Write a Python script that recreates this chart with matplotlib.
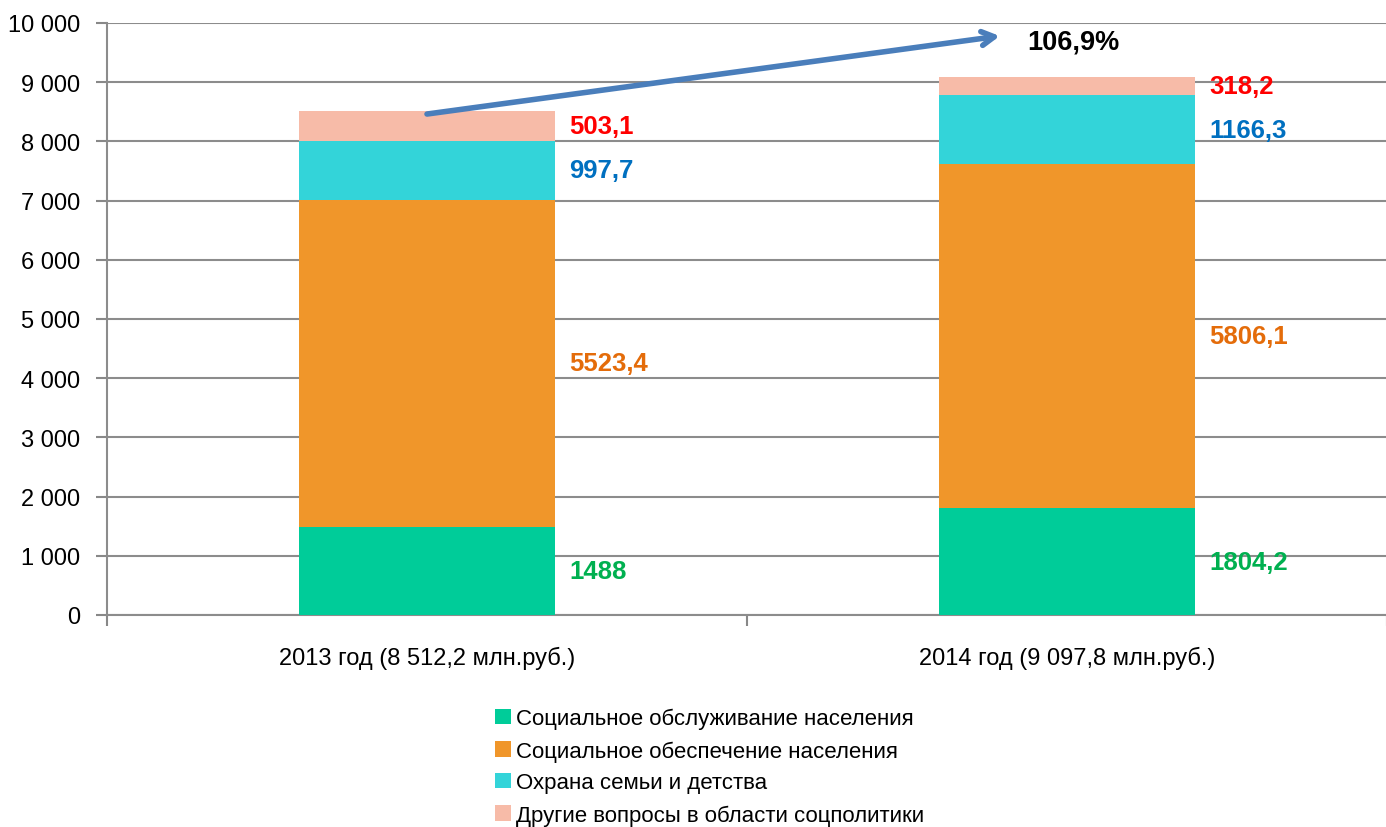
import matplotlib
matplotlib.use("Agg")
import matplotlib.pyplot as plt
import numpy as np
from matplotlib.patches import Patch

plt.rcParams['font.family'] = ["Liberation Sans", "DejaVu Sans"]

categories = ["2013 год (8 512,2 млн.руб.)", "2014 год (9 097,8 млн.руб.)"]
series_names = ["Социальное обслуживание населения",
                "Социальное обеспечение населения",
                "Охрана семьи и детства",
                "Другие вопросы в области соцполитики"]
obsluzh = [1488, 1804.2]
obespech = [5523.4, 5806.1]
semya = [997.7, 1166.3]
drugie = [503.1, 318.2]
label_texts = [["1488", "1804,2"], ["5523,4", "5806,1"], ["997,7", "1166,3"], ["503,1", "318,2"]]
growth_text = "106,9%"
yticks = [0, 1000, 2000, 3000, 4000, 5000, 6000, 7000, 8000, 9000, 10000]
ytick_labels = ["0", "1 000", "2 000", "3 000", "4 000", "5 000", "6 000", "7 000", "8 000", "9 000", "10 000"]

colors = ["#00CC99", "#F0962A", "#33D4D9", "#F7BBA8"]
label_colors = ["#00B050", "#E46C0A", "#0070C0", "#FF0000"]

fig = plt.figure(figsize=(13.86, 8.28), dpi=100)
ax = fig.add_axes([107/1386, 1-616/828, 1280/1386, (616-24)/828])

x = np.arange(len(categories))
series = [obsluzh, obespech, semya, drugie]
bottom = np.zeros(len(categories))
for s, c, lt, lc, nm in zip(series, colors, label_texts, label_colors, series_names):
    vals = np.array(s)
    ax.bar(x, vals, width=0.4, bottom=bottom, color=c, zorder=3, label=nm)
    for i in range(len(x)):
        ax.text(x[i] + 0.222, bottom[i] + vals[i] / 2, lt[i], color=lc, fontsize=18.5,
                fontweight='bold', ha='left', va='center', zorder=4)
    bottom = bottom + vals

ax.set_xlim(-0.5, 1.5)
ax.set_ylim(0, 10000)
ax.set_yticks(yticks)
ax.set_yticklabels(ytick_labels, fontsize=17)
ax.set_xticks(x)
ax.set_xticklabels(categories, fontsize=17)
ax.set_xticks([-0.5, 0.5, 1.5], minor=True)
ax.tick_params(axis='x', which='major', length=0, pad=22)
ax.tick_params(axis='x', which='minor', length=8, color='#888888', width=1.5)
ax.tick_params(axis='y', length=8, color='#888888', width=1.5, pad=11)
ax.grid(axis='y', color='#8c8c8c', linewidth=1.5, zorder=0)
for sp in ['top', 'right']:
    ax.spines[sp].set_visible(False)
ax.spines['left'].set_color('#8c8c8c')
ax.spines['left'].set_linewidth(1.5)
ax.spines['bottom'].set_color('#8c8c8c')
ax.spines['bottom'].set_linewidth(1.5)

# growth arrow
ax.annotate("", xy=(0.895, 9780), xytext=(0, bottom[0] - 50),
            arrowprops=dict(arrowstyle='->,head_length=0.9,head_width=0.5', color='#4A7EBB', lw=4,
                            shrinkA=0, shrinkB=0), zorder=5)
ax.text(1.01, 9690, growth_text, fontsize=19.5, fontweight='bold', ha='center', va='center')

handles = [Patch(facecolor=c) for c in colors]
fig.legend(handles, series_names, loc='upper left', bbox_to_anchor=(484/1386, 1-698/828),
           frameon=False, fontsize=16, handlelength=0.7, handleheight=0.7,
           handletextpad=0.25, labelspacing=0.49, borderpad=0)

fig.savefig("out.png", dpi=100)
